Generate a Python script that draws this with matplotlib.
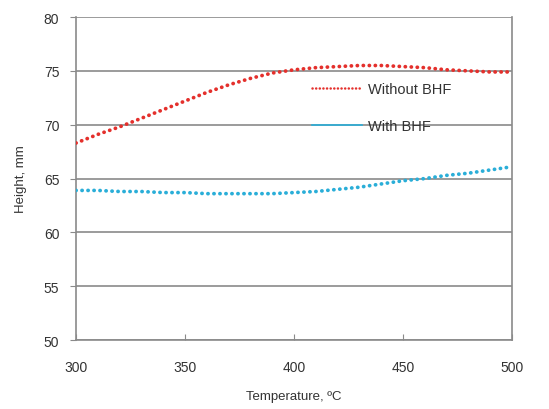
import matplotlib
matplotlib.use("Agg")
import matplotlib.pyplot as plt
from matplotlib.lines import Line2D

plt.rcParams["font.family"] = ["Liberation Sans", "DejaVu Sans"]

# values
temperature = [300, 310, 320, 330, 340, 350, 360, 370, 380, 390, 400,
               410, 420, 430, 440, 450, 460, 470, 480, 490, 500]
height_without_bhf = [68.3, 69.1, 69.8, 70.6, 71.4, 72.2, 73.0, 73.7, 74.3, 74.8, 75.1,
                      75.3, 75.4, 75.5, 75.5, 75.4, 75.3, 75.1, 75.0, 74.9, 74.9]
height_with_bhf = [63.9, 63.9, 63.8, 63.8, 63.7, 63.7, 63.6, 63.6, 63.6, 63.6, 63.7,
                   63.8, 64.0, 64.2, 64.5, 64.8, 65.0, 65.3, 65.5, 65.8, 66.1]

x_ticks = [300, 350, 400, 450, 500]
y_ticks = [50, 55, 60, 65, 70, 75, 80]

RED, BLUE = "#e4302c", "#2aaed8"
GRID = "#8a8a8a"
TXT = "#333333"

fig = plt.figure(figsize=(5.49, 4.10), dpi=100)
ax = fig.add_axes([0.1384, 0.168, 0.7942, 0.788])

dotted = dict(linewidth=2.7, dashes=(0.05, 1.55), dash_capstyle="round", zorder=3)
ax.plot(temperature, height_without_bhf, color=RED, **dotted)
ax.plot(temperature, height_with_bhf, color=BLUE, **dotted)

ax.set_xlim(300, 500)
ax.set_ylim(50, 80)
ax.set_xticks(x_ticks)
ax.set_yticks(y_ticks)
ax.yaxis.grid(True, color=GRID, linewidth=1.2)
ax.set_axisbelow(True)

for sp in ax.spines.values():
    sp.set_color(GRID)
    sp.set_linewidth(1.2)
ax.spines["top"].set_visible(False)

ax.tick_params(axis="y", direction="out", length=4, color=GRID,
               labelsize=10, labelcolor=TXT, pad=8)
ax.tick_params(axis="x", direction="in", length=4, color=GRID,
               labelsize=10, labelcolor=TXT, pad=14)

ax.set_xlabel("Temperature, ºC", fontsize=9.5, color=TXT, labelpad=12)
ax.set_ylabel("Height, mm", fontsize=9.5, color=TXT, labelpad=12)

handles = [
    Line2D([], [], color=RED, linewidth=1.8, dashes=(0.05, 1.4),
           dash_capstyle="round"),
    Line2D([], [], color=BLUE, linewidth=1.2),
]
leg = ax.legend(handles, ["Without BHF", "With BHF"], loc="upper left",
                bbox_to_anchor=(0.512, 0.84), frameon=False, fontsize=10.5,
                handlelength=3.4, handletextpad=0.4, labelspacing=1.6)
for t in leg.get_texts():
    t.set_color(TXT)

fig.savefig("out.png", dpi=100)
